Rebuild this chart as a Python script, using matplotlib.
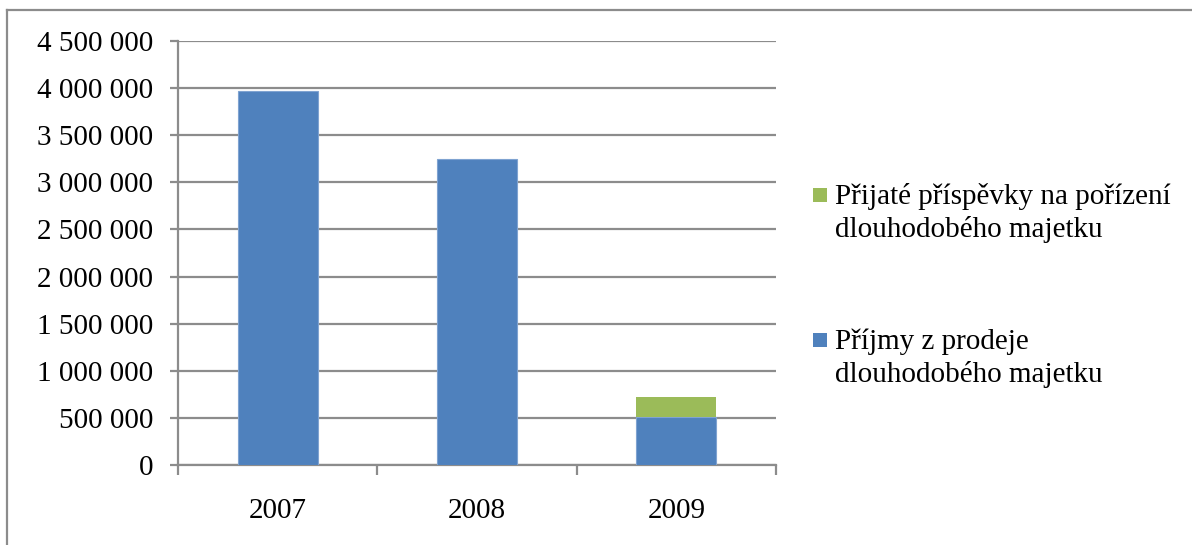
import matplotlib.pyplot as plt
import numpy as np
from matplotlib.lines import Line2D
from matplotlib.patches import Rectangle
from matplotlib.ticker import FuncFormatter, FixedLocator

plt.rcParams['font.family'] = ['Liberation Serif', 'DejaVu Serif']

roky = ['2007', '2008', '2009']
prijmy_prodej = [3970000, 3250000, 505000]
prispevky = [0, 0, 220000]

nazvy = ['Příjmy z prodeje\ndlouhodobého majetku',
         'Přijaté příspěvky na pořízení\ndlouhodobého majetku']
barvy = ['#4F81BD', '#9BBB59']
seda = '#8c8c8c'
W, H = 1192, 545

fig = plt.figure(figsize=(W / 100, H / 100), dpi=100)
ax = fig.add_axes([178 / W, 1 - 465 / H, 598 / W, 424 / H])

x = np.arange(len(roky))
ax.bar(x, prijmy_prodej, width=0.4, color=barvy[0], edgecolor='#7fa3d1', linewidth=0.8, zorder=3)
ax.bar(x, prispevky, width=0.4, bottom=prijmy_prodej, color=barvy[1], linewidth=0, zorder=3)

ax.set_xlim(-0.5, 2.5)
ax.set_ylim(0, 4500000)
ax.yaxis.set_major_locator(FixedLocator(np.arange(0, 4500001, 500000)))
ax.yaxis.set_major_formatter(FuncFormatter(lambda v, p: f"{int(v):,}".replace(",", " ")))
ax.grid(axis='y', color=seda, linewidth=1.6, zorder=0)

ax.set_xticks(x)
ax.set_xticklabels(roky)
ax.set_xticks([-0.5, 0.5, 1.5, 2.5], minor=True)
ax.tick_params(axis='x', which='major', length=0, pad=24, labelsize=21)
ax.tick_params(axis='x', which='minor', length=7, width=1.6, color=seda, direction='out')
ax.tick_params(axis='y', length=6, width=1.6, color=seda, pad=12, labelsize=21)

for s in ['top', 'right']:
    ax.spines[s].set_visible(False)
for s in ['left', 'bottom']:
    ax.spines[s].set_color(seda)
    ax.spines[s].set_linewidth(1.6)

# legenda vpravo, znacka u prvniho radku popisku
stred_znacky = [195, 340]
for i, (nazev, barva) in enumerate(zip(nazvy[::-1], barvy[::-1])):
    yc = stred_znacky[i]
    fig.add_artist(Rectangle((813 / W, 1 - (yc + 7) / H), 14 / W, 14 / H,
                             transform=fig.transFigure, color=barva, linewidth=0))
    for j, radek in enumerate(nazev.split('\n')):
        fig.text(835 / W, 1 - (yc + 9 + 33 * j) / H, radek, fontsize=21,
                 va='baseline', ha='left')

# ramecek grafu
fig.add_artist(Line2D([7 / W, 7 / W], [0, 1 - 10 / H], transform=fig.transFigure,
                      color=seda, linewidth=1.6))
fig.add_artist(Line2D([7 / W, 1], [1 - 10 / H, 1 - 10 / H], transform=fig.transFigure,
                      color=seda, linewidth=1.6))

fig.savefig('out.png', dpi=100)
